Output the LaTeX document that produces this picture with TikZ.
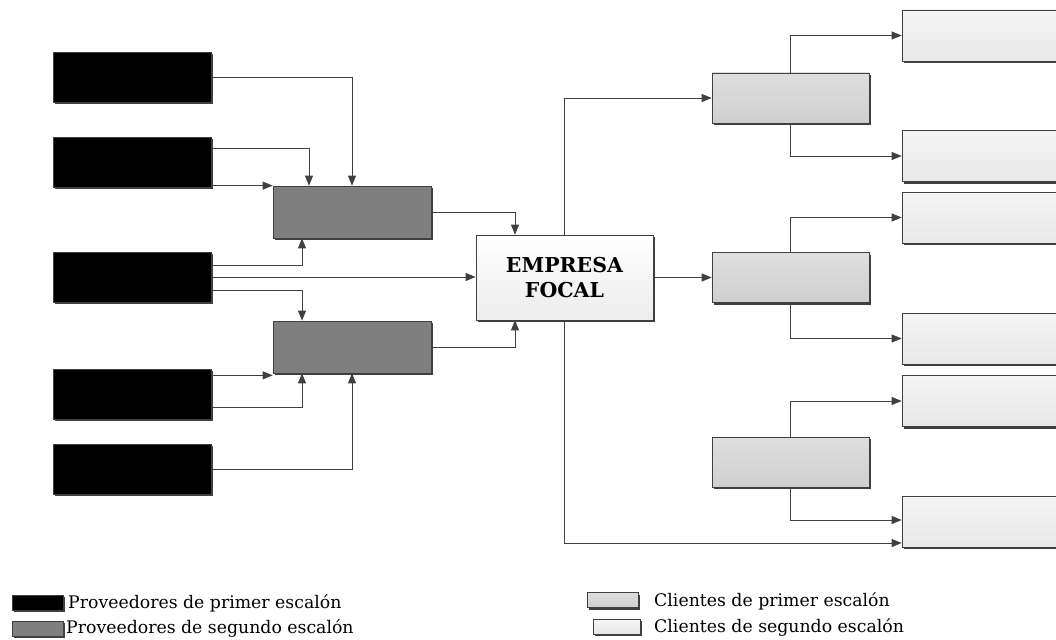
\documentclass[tikz,border=0pt]{standalone}
\usepackage{fontspec}
\setmainfont{DejaVu Serif}
\usetikzlibrary{arrows.meta, positioning, shadows, calc}
\definecolor{linegray}{HTML}{404040}
\definecolor{provtwo}{HTML}{7F7F7F}

\begin{document}
\begin{tikzpicture}[x=1pt, y=-1pt,
    box/.style={draw=linegray, line width=0.7pt, inner sep=0pt,
        drop shadow={shadow xshift=2pt, shadow yshift=-2pt, fill=black!75, opacity=1}},
    provone/.style={box, fill=black, minimum width=158pt, minimum height=50pt},
    provtwo/.style={box, fill=provtwo, minimum width=158pt, minimum height=52pt},
    cliente/.style={box, top color=gray!25, bottom color=gray!38, minimum width=157pt, minimum height=50pt},
    clientdos/.style={box, top color=gray!8, bottom color=gray!18, minimum width=158pt, minimum height=51pt},
    focal/.style={box, top color=white, bottom color=gray!15, minimum width=177pt, minimum height=85pt,
        font=\fontsize{20.5}{25}\selectfont\bfseries, align=center},
    arr/.style={draw=linegray, line width=0.8pt, -{Triangle[length=10pt, width=8pt]}},
    legend/.style={anchor=west, font=\fontsize{17.3}{20}\selectfont, inner sep=0pt}]
\useasboundingbox (0,0) rectangle (1056,639);

\node[provone] (A1) at (132,77) {};
\node[provone] (A2) at (132,162) {};
\node[provone] (A3) at (132,277) {};
\node[provone] (A4) at (132,394) {};
\node[provone] (A5) at (132,469) {};

\node[provtwo] (B1) at (352,212) {};
\node[provtwo] (B2) at (352,347) {};

\node[focal] (F) at (564.5,277.5) {EMPRESA\\FOCAL};

\node[cliente] (C1) at (790.5,98) {};
\node[cliente] (C2) at (790.5,277.5) {};
\node[cliente] (C3) at (790.5,462) {};

\node[clientdos] (D1) at (981,35.5) {};
\node[clientdos] (D2) at (981,156) {};
\node[clientdos] (D3) at (981,217.5) {};
\node[clientdos] (D4) at (981,338.5) {};
\node[clientdos] (D5) at (981,401) {};
\node[clientdos] (D6) at (981,521.5) {};

% proveedores
\draw[arr] (A1.east) -| (B1.north);
\draw[arr] ([yshift=14pt]A2.east) -| ([xshift=-43pt]B1.north);
\draw[arr] (B1.north west -| A2.east) -- (B1.north west);
\draw[arr] ([yshift=12pt]A3.east) -| ([xshift=-50pt]B1.south);
\draw[arr] (A3.east) -- (A3.east -| F.west);
\draw[arr] ([yshift=-13pt]A3.east) -| ([xshift=-50pt]B2.north);
\draw[arr] ([yshift=-2pt]B2.south west -| A4.east) -- ([yshift=-2pt]B2.south west);
\draw[arr] ([yshift=-13pt]A4.east) -| ([xshift=-50pt]B2.south);
\draw[arr] (A5.east) -| (B2.south);
\draw[arr] (B1.east) -| ([xshift=-49.5pt]F.north);
\draw[arr] (B2.east) -| ([xshift=-49.5pt]F.south);

% clientes
\draw[arr] (F.north) |- (C1.west);
\draw[arr] (F.east) -- (C2.west);
\draw[arr] (F.south) |- ([yshift=-21.5pt]D6.west);
\draw[arr] (C1.north) |- (D1.west);
\draw[arr] (C1.south) |- (D2.west);
\draw[arr] (C2.north) |- (D3.west);
\draw[arr] (C2.south) |- (D4.west);
\draw[arr] (C3.north) |- (D5.west);
\draw[arr] (C3.south) |- ([yshift=1.5pt]D6.west);

% leyenda
\node[box, fill=black, minimum width=51pt, minimum height=15pt] (L1) at (37.5,602.5) {};
\node[box, fill=provtwo, minimum width=51pt, minimum height=15pt] (L2) at (37.5,628.5) {};
\node[legend] (T1) at (68,603) {Proveedores de primer escalón};
\node[legend] (T2) at (66,628.5) {Proveedores de segundo escalón};
\node[box, top color=gray!25, bottom color=gray!38, minimum width=51pt, minimum height=15pt] (L3) at (612.5,600) {};
\node[box, top color=gray!8, bottom color=gray!18, minimum width=47pt, minimum height=15pt] (L4) at (616.5,626.5) {};
\node[legend] (T3) at (654,601) {Clientes de primer escalón};
\node[legend] (T4) at (654,627) {Clientes de segundo escalón};
\end{tikzpicture}
\end{document}
